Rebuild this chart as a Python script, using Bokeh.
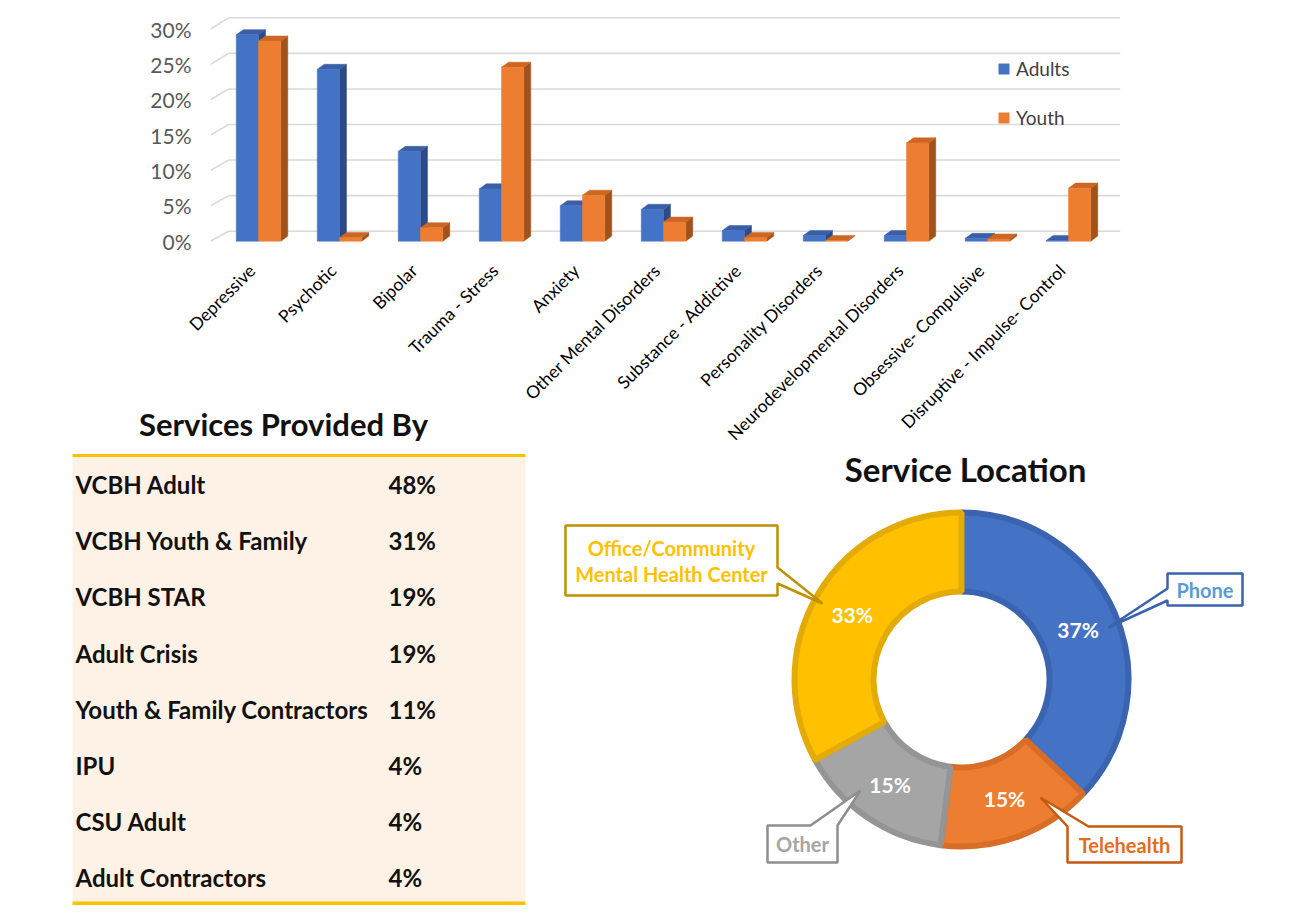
import math
from bokeh.plotting import figure
from bokeh.models import (Range1d, FixedTicker, PrintfTickFormatter, Legend,
                          LegendItem)
from bokeh.layouts import column, row
from bokeh.core.properties import value
from bokeh.embed import file_html
from bokeh.resources import INLINE

# ---------------- data ----------------
categories = ["Depressive", "Psychotic", "Bipolar", "Trauma - Stress", "Anxiety",
              "Other Mental Disorders", "Substance - Addictive", "Personality Disorders",
              "Neurodevelopmental Disorders", "Obsessive- Compulsive",
              "Disruptive - Impulse- Control"]
adults = [29.2, 24.3, 12.7, 7.4, 5.0, 4.5, 1.5, 0.8, 0.8, 0.4, 0.1]
youth = [28.3, 0.5, 1.9, 24.6, 6.5, 2.7, 0.5, 0.1, 13.9, 0.3, 7.5]
y_ticks = [0, 5, 10, 15, 20, 25, 30]

services = ["VCBH Adult", "VCBH Youth & Family", "VCBH STAR", "Adult Crisis",
            "Youth & Family Contractors", "IPU", "CSU Adult", "Adult Contractors"]
service_pct = [48, 31, 19, 19, 11, 4, 4, 4]

locations = ["Phone", "Telehealth", "Other", "Office/Community\nMental Health Center"]
location_pct = [37, 15, 15, 33]

# ---------------- styles ----------------
FONT_NAME = "Lato"
FONT = value(FONT_NAME)
BLUE, BLUE_TOP, BLUE_SIDE = "#4472C4", "#3A5FA6", "#2C4B86"
ORANGE, ORANGE_TOP, ORANGE_SIDE = "#ED7D31", "#CC6623", "#A1521B"
GRID = "#D9D9D9"

# ================= bar chart =================
n = len(categories)
p1 = figure(width=1292, height=470, output_backend="svg", toolbar_location=None,
            x_range=Range1d(-0.593, 10.642), y_range=Range1d(-1.315, 31.92),
            min_border_left=210, min_border_right=172, min_border_top=15,
            min_border_bottom=220)
p1.outline_line_color = None
p1.grid.visible = False
p1.background_fill_color = "white"
p1.border_fill_alpha = 0

# 3D-style gridlines on back wall
g0, gs = 1.414, 1.006
x_left, x_a, x_end = -0.593, -0.37, 10.642
gy = [t * gs + g0 for t in y_ticks]
p1.segment(x0=[x_a] * len(y_ticks), y0=gy, x1=[x_end] * len(y_ticks), y1=gy,
           line_color=GRID, line_width=1.6)
p1.segment(x0=[x_left] * len(y_ticks), y0=y_ticks, x1=[x_a] * len(y_ticks), y1=gy,
           line_color=GRID, line_width=1.6)

bw = 0.275
dx, dy = 0.086, 0.72

def bar3d(xl_list, vals, front, top, side):
    tops_x, tops_y, sides_x, sides_y = [], [], [], []
    for xl, v in zip(xl_list, vals):
        xr = xl + bw
        tops_x.append([xl, xr, xr + dx, xl + dx])
        tops_y.append([v, v, v + dy, v + dy])
        sides_x.append([xr, xr + dx, xr + dx, xr])
        sides_y.append([0, dy, v + dy, v])
    p1.patches(sides_x, sides_y, fill_color=side, line_color=side, line_width=0.5)
    p1.patches(tops_x, tops_y, fill_color=top, line_color=top, line_width=0.5)
    return p1.vbar(x=[xl + bw / 2 for xl in xl_list], width=bw, top=vals, bottom=0,
                   fill_color=front, line_color=front, line_width=0.5)

xs_a = [i - bw for i in range(n)]
xs_y = [i for i in range(n)]
r_a = bar3d(xs_a, adults, BLUE, BLUE_TOP, BLUE_SIDE)
r_y = bar3d(xs_y, youth, ORANGE, ORANGE_TOP, ORANGE_SIDE)

label_shift = 0.08  # rotated labels end slightly left of the group centre
tick_pos = [round(i - label_shift, 3) for i in range(n)]
xa = p1.xaxis[0]
xa.ticker = FixedTicker(ticks=tick_pos)
xa.major_label_overrides = {t: c for t, c in zip(tick_pos, categories)}
xa.major_label_orientation = math.pi / 4
xa.axis_line_color = None
xa.major_tick_line_color = None
xa.minor_tick_line_color = None
xa.major_tick_out = 0
xa.major_tick_in = 0
xa.major_label_standoff = 17
xa.major_label_text_font = FONT_NAME
xa.major_label_text_font_size = "17.5px"
xa.major_label_text_color = "#000000"

ya = p1.yaxis[0]
ya.ticker = FixedTicker(ticks=y_ticks)
ya.formatter = PrintfTickFormatter(format="%d%%")
ya.axis_line_color = None
ya.major_tick_line_color = None
ya.minor_tick_line_color = None
ya.major_tick_out = 0
ya.major_tick_in = 0
ya.major_label_standoff = 19
ya.major_label_text_font = FONT_NAME
ya.major_label_text_font_size = "21px"
ya.major_label_text_color = "#595959"

legend = Legend(items=[LegendItem(label="Adults", renderers=[r_a]),
                       LegendItem(label="Youth", renderers=[r_y])],
                location=(787, 121), orientation="vertical", padding=0, margin=0,
                spacing=26, glyph_width=13, glyph_height=13, label_height=20,
                label_standoff=6, label_text_font=FONT_NAME, label_text_font_size="19px",
                label_text_color="#404040", background_fill_alpha=0,
                border_line_alpha=0)
p1.add_layout(legend)

# ================= table =================
# this panel reaches 40px up into the empty space under the bar chart
p2 = figure(width=545, height=500, output_backend="svg", toolbar_location=None,
            x_range=Range1d(0, 545), y_range=Range1d(500, 0), min_border=0,
            x_axis_location=None, y_axis_location=None, margin=(-40, 0, 0, 0))
p2.outline_line_color = None
p2.grid.visible = False
p2.border_fill_alpha = 0
p2.background_fill_alpha = 0
p2.text(x=[283], y=[18], text=["Services Provided By"], text_font=FONT,
        text_font_size="31px", text_font_style="bold", text_color="#111111",
        text_align="center", text_baseline="middle")
p2.quad(left=[72], right=[525], top=[50], bottom=[498], fill_color="#FEF2E6",
        line_color=None)
p2.segment(x0=[72], y0=[50], x1=[525], y1=[50], line_color="#FFC000", line_width=3)
p2.segment(x0=[72], y0=[498], x1=[525], y1=[498], line_color="#FFC000", line_width=4)
row_y = [79 + 56.2 * i for i in range(len(services))]
p2.text(x=[75] * len(services), y=row_y, text=services, text_font=FONT,
        text_font_size="24px", text_font_style="bold", text_color="#111111",
        text_baseline="middle", text_align="left")
p2.text(x=[388] * len(services), y=row_y, text=[f"{v}%" for v in service_pct],
        text_font=FONT, text_font_size="24px", text_font_style="bold",
        text_color="#111111", text_baseline="middle", text_align="left")

# ================= donut =================
p3 = figure(width=747, height=460, output_backend="svg", toolbar_location=None,
            x_range=Range1d(0, 747), y_range=Range1d(0, 460), min_border=0,
            x_axis_location=None, y_axis_location=None)
p3.outline_line_color = None
p3.grid.visible = False
p3.border_fill_alpha = 0
p3.background_fill_alpha = 0

cx, cy = 416, 226
fills = ["#4472C4", "#ED7D31", "#A5A5A5", "#FFC000"]
borders = ["#3B64B0", "#D86D28", "#959595", "#E2AB08"]
starts, ends, mids = [], [], []
cum = 0.0
for v in location_pct:
    a0 = math.pi / 2 - 2 * math.pi * cum / 100
    cum += v
    a1 = math.pi / 2 - 2 * math.pi * cum / 100
    starts.append(a0); ends.append(a1); mids.append((a0 + a1) / 2)
p3.annular_wedge(x=cx, y=cy, inner_radius=88, outer_radius=167,
                 start_angle=starts, end_angle=ends, direction="clock",
                 fill_color=fills, line_color=borders, line_width=6)
lr = 127
p3.text(x=[cx + lr * math.cos(a) for a in mids], y=[cy + lr * math.sin(a) for a in mids],
        text=[f"{v}%" for v in location_pct], text_font=FONT, text_font_size="21px",
        text_font_style="bold", text_color="white", text_align="center",
        text_baseline="middle")

p3.text(x=[420], y=[437], text=["Service Location"], text_font=FONT,
        text_font_size="33px", text_font_style="bold", text_color="#111111",
        text_align="center", text_baseline="middle")

# callouts (layout: box, pointer polygon)
callout_poly = [
    [(622, 332), (697, 332), (697, 300), (622, 300), (622, 305), (563, 278), (622, 317)],
    [(522, 79), (495, 108), (543, 79), (636, 79), (636, 43), (522, 43)],
    [(222, 80), (265, 80), (315, 115), (292, 80), (292, 43), (222, 43)],
    [(20, 380), (232, 380), (232, 338), (277, 302), (232, 322), (232, 310), (20, 310)],
]
callout_center = [(659.5, 316), (579, 61), (257, 61.5), (126, 345)]
callout_border = ["#3A63AE", "#C55A11", "#8E8E8E", "#BF9000"]
callout_text = ["#5B9BD5", "#E46C1E", "#A5A5A5", "#FFC000"]
for poly, (tx, ty), bc, tc, name in zip(callout_poly, callout_center, callout_border,
                                        callout_text, locations):
    p3.patch([q[0] for q in poly], [q[1] for q in poly], fill_color="white",
             line_color=bc, line_width=2.5)
    lines = name.split("\n")
    k = len(lines)
    ys = [ty + 13 * (k - 1) - 26 * j for j in range(k)]
    p3.text(x=[tx] * k, y=ys, text=lines, text_font=FONT, text_font_size="20px",
            text_font_style="bold", text_color=tc, text_align="center",
            text_baseline="middle")

bottom = row(p2, p3, spacing=0, margin=(-25, 0, 0, 0))
layout = column(p1, bottom, spacing=0)
open("out.html", "w").write(file_html(layout, INLINE))
